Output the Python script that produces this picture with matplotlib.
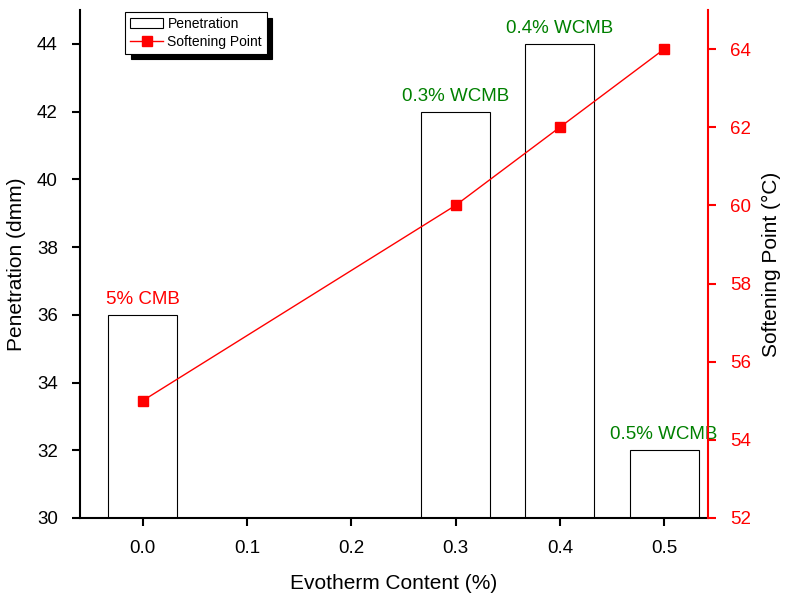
import matplotlib.pyplot as plt

plt.rcParams['font.family'] = ['Liberation Sans', 'DejaVu Sans']

# data
content = [0.0, 0.3, 0.4, 0.5]
penetration = [36, 42, 44, 32]
softening = [55, 60, 62, 64]
labels = ['5% CMB', '0.3% WCMB', '0.4% WCMB', '0.5% WCMB']
label_colors = ['red', 'green', 'green', 'green']

fig = plt.figure(figsize=(7.9, 5.93), dpi=100)
ax = fig.add_axes([80/790, 75/593, 628/790, 508/593])

bars = ax.bar(content, penetration, width=0.066, facecolor='white',
              edgecolor='black', linewidth=0.8, label='Penetration')
for x, y, t, c in zip(content, penetration, labels, label_colors):
    ax.text(x, y + 0.2, t, ha='center', va='bottom', color=c, fontsize=13.5)

ax.set_xlim(-0.06, 0.542)
ax.set_ylim(30, 45)
ax.set_xticks([0.0, 0.1, 0.2, 0.3, 0.4, 0.5])
ax.set_yticks(range(30, 45, 2))
ax.set_xlabel('Evotherm Content (%)', fontsize=15, labelpad=12)
ax.set_ylabel('Penetration (dmm)', fontsize=15, labelpad=8)
ax.tick_params(axis='both', direction='out', length=6, width=1.5, labelsize=13.5, pad=10)
ax.spines['top'].set_visible(False)
ax.spines['right'].set_visible(False)
for s in ['left', 'bottom']:
    ax.spines[s].set_linewidth(1.5)

ax2 = ax.twinx()
line, = ax2.plot(content, softening, color='red', marker='s', markersize=7,
                 linewidth=1, label='Softening Point')
ax2.set_ylim(52, 65)
ax2.set_yticks(range(52, 65, 2))
ax2.set_ylabel('Softening Point (°C)', fontsize=15, color='black', labelpad=8)
ax2.tick_params(axis='y', direction='out', length=6, width=1.5, labelsize=13.5,
                colors='red', pad=10)
for s in ['top', 'left', 'bottom']:
    ax2.spines[s].set_visible(False)
ax2.spines['right'].set_color('red')
ax2.spines['right'].set_linewidth(1.5)

leg = ax2.legend([bars, line], ['Penetration', 'Softening Point'],
                 loc='upper left', bbox_to_anchor=(0.0717, 0.996), borderaxespad=0,
                 fontsize=10, fancybox=False,
                 shadow={'color': 'black', 'alpha': 1, 'ox': 4, 'oy': -4},
                 framealpha=1, edgecolor='black',
                 borderpad=0.35, labelspacing=0.3, handlelength=2.4,
                 handletextpad=0.3)
leg.get_frame().set_linewidth(0.8)

fig.savefig('out.png', dpi=100)
